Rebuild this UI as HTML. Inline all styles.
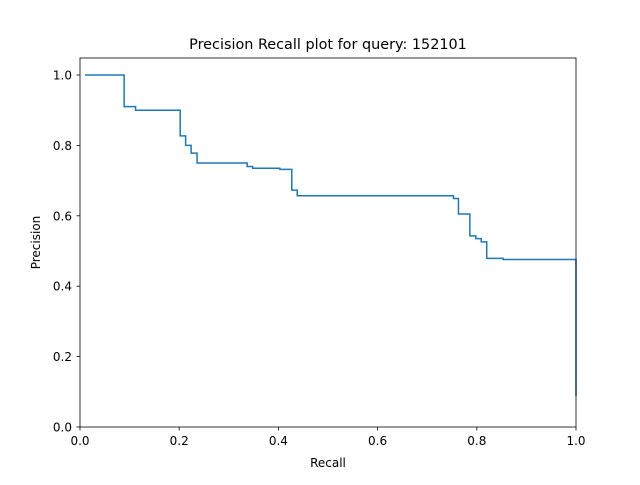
<!DOCTYPE html>
<html><head><meta charset="utf-8"><style>
body{margin:0;background:#fff}
svg text{font-family:"DejaVu Sans","Liberation Sans",sans-serif;fill:#000}
</style></head><body>
<svg id="chart" width="640" height="480">
<rect width="640" height="480" fill="#fff"/>
<text x="328" y="49" font-size="14.4" text-anchor="middle">Precision Recall plot for query: 152101</text>
<g id="ticks"></g>
<path id="line" fill="none" stroke="#1f77b4" stroke-width="1.5"/>
<rect x="80" y="58" width="496" height="369" fill="none" stroke="#000" stroke-width="0.8"/>
<text x="328" y="467" font-size="12" text-anchor="middle">Recall</text>
<text transform="translate(40,242.5) rotate(-90)" font-size="12" text-anchor="middle">Precision</text>
</svg>
<script>
const recall=[0.01,0.089,0.112,0.202,0.213,0.224,0.236,0.337,0.348,0.403,0.427,0.438,0.753,0.763,0.786,0.798,0.809,0.820,0.853,1.0];
const precision=[1.0,0.910,0.900,0.827,0.800,0.778,0.750,0.740,0.735,0.732,0.673,0.657,0.649,0.605,0.543,0.535,0.526,0.479,0.476,0.088];
const xTicks=[0,0.2,0.4,0.6,0.8,1.0];
const yTicks=[0,0.2,0.4,0.6,0.8,1.0];
const X=v=>80+v*496, Y=v=>427-v*352;
let d='M'+X(recall[0])+','+Y(precision[0]);
for(let i=1;i<recall.length;i++){d+=' H'+X(recall[i])+' V'+Y(precision[i]);}
document.getElementById('line').setAttribute('d',d);
const g=document.getElementById('ticks'),ns='http://www.w3.org/2000/svg';
xTicks.forEach(t=>{
 const l=document.createElementNS(ns,'line');l.setAttribute('x1',X(t));l.setAttribute('x2',X(t));l.setAttribute('y1',427);l.setAttribute('y2',430.5);l.setAttribute('stroke','#000');l.setAttribute('stroke-width','0.8');
 
 
 g.appendChild(l);
 const tx=document.createElementNS(ns,'text');tx.setAttribute('x',X(t));tx.setAttribute('y',445);tx.setAttribute('font-size','12');tx.setAttribute('text-anchor','middle');tx.textContent=t.toFixed(1);
 
 
 g.appendChild(tx);
});
yTicks.forEach(t=>{
 const l=document.createElementNS(ns,'line');l.setAttribute('x1',76.5);l.setAttribute('x2',80);l.setAttribute('y1',Y(t));l.setAttribute('y2',Y(t));l.setAttribute('stroke','#000');l.setAttribute('stroke-width','0.8');
 
 
 g.appendChild(l);
 const tx=document.createElementNS(ns,'text');tx.setAttribute('x',72);tx.setAttribute('y',Y(t)+4.5);tx.setAttribute('font-size','12');tx.setAttribute('text-anchor','end');tx.textContent=t.toFixed(1);
 
 
 g.appendChild(tx);
});
</script>
</body></html>
